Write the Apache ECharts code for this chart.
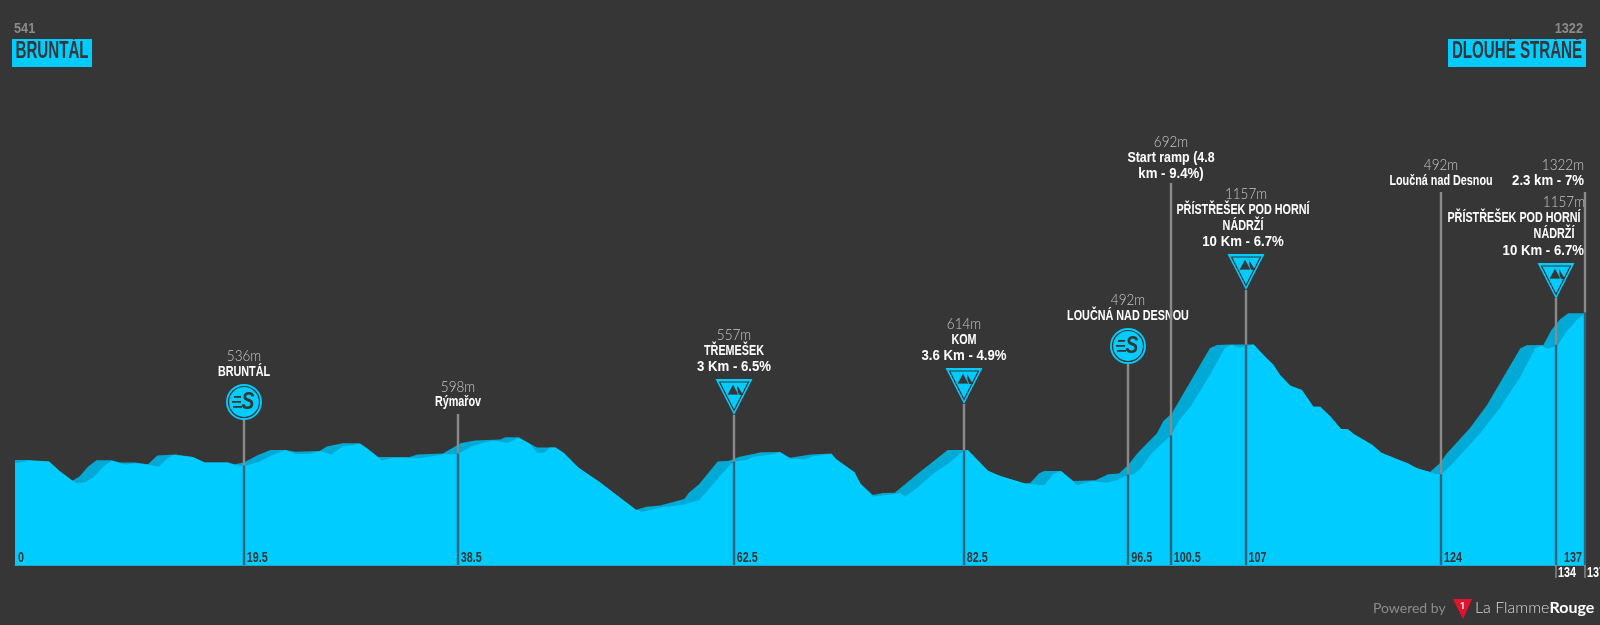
<!DOCTYPE html>
<html><head><meta charset="utf-8">
<style>html,body{margin:0;padding:0;background:#363636}#c{width:1600px;height:625px}</style>
<script src="https://cdn.jsdelivr.net/npm/echarts@6/dist/echarts.min.js"></script>
</head><body><div id="c"></div>
<script>
// Profile outline, back layer [km, metres]
const backProfile = [[0,565],[1.2,565],[2.96,558],[3.84,510],[5,459],[5.6,480],[6.34,531],[7.08,564],[8.4,564],[9.14,552],[10.46,553],[11.57,543],[12.37,588],[13.98,593],[15.45,581],[16.5,553],[18.5,553],[19.1,543],[19.9,552],[21.04,588],[22.2,617],[23.5,617],[24.4,608],[26.5,612],[27.1,634],[28.5,651],[30,651],[30.6,625],[31.6,581],[34.3,581],[35,594],[37.2,598],[38.1,629],[38.8,653],[40,666],[42.2,670],[42.65,682],[43.8,682],[44.8,647],[45.4,630],[47,630],[47.7,603],[49,526],[50.8,454],[52.7,368],[54,310],[54.9,325],[56.1,331],[58.2,365],[58.6,397],[59.5,442],[61.1,558],[62.1,562],[63,582],[64.9,605],[66.5,606],[67.4,577],[69.2,594],[71,598],[71.4,569],[73,502],[73.5,445],[74.6,385],[75.5,396],[76.5,397],[78.6,500],[81.1,617],[82.85,617],[84.6,510],[85.6,485],[87.7,445],[88.3,449],[89.05,497],[89.5,509],[90.95,509],[92.05,458],[93.95,461],[95.06,492],[96,496],[96.8,540],[97.6,600],[99.3,702],[99.86,765],[100.6,805],[103.9,1139],[104.5,1156],[105.8,1159],[107.7,1159],[108.7,1096],[109.4,1056],[110,1002],[110.9,947],[111.9,925],[112.9,839],[113.5,839],[114.4,788],[115.3,725],[115.9,723],[116.4,699],[118,643],[118.8,603],[120.2,569],[121.1,549],[121.9,523],[123.04,504],[123.9,548],[124.5,599],[126.5,728],[128,848],[128.84,933],[130.9,1139],[131.45,1154],[132.9,1156],[133.6,1233],[134.35,1288],[135.07,1319],[136.52,1319]];
// Profile outline, front layer [km, metres]
const frontProfile = [[0,548],[1.2,562],[2.96,558],[3.84,510],[5,459],[5.46,445],[6.2,454],[6.9,480],[7.66,531],[8.4,562],[9.6,541],[10.46,548],[11.6,541],[12.5,531],[13.25,574],[13.8,591],[15.45,581],[16.5,553],[18.5,553],[19.1,540],[19.9,533],[21.3,557],[22.2,586],[23.5,617],[24.4,596],[25.6,596],[26.5,612],[27.5,594],[28.5,634],[30,647],[30.6,625],[31.9,562],[32.8,577],[35.15,574],[37.2,594],[38.5,596],[39.7,634],[40.6,651],[41.6,666],[42.8,653],[43.8,680],[44.8,647],[45.4,603],[46,603],[46.5,629],[47,630],[47.7,603],[49,526],[50.8,454],[52.7,368],[54,310],[54.5,298],[56.25,322],[58,334],[59.5,360],[60.4,420],[61.5,497],[62.5,557],[63.6,565],[64.2,582],[66.1,596],[66.5,606],[67.4,572],[68.7,569],[69.5,586],[71,596],[71.4,569],[73,502],[73.5,445],[74.6,377],[76.5,391],[77,394],[77.4,377],[78.4,420],[79.9,497],[81.2,548],[82.5,613],[82.85,617],[84.6,510],[85.6,485],[88,442],[89.5,435],[90.3,494],[90.95,509],[92.37,436],[93.6,458],[94.9,449],[95.85,463],[96.8,489],[97.3,492],[97.9,523],[98.85,600],[100.5,691],[101.2,765],[102.3,847],[103.9,1002],[105.2,1139],[105.8,1156],[106.5,1142],[107.1,1152],[107.7,1159],[108.7,1096],[109.4,1056],[110,1002],[110.9,947],[111.9,925],[112.9,839],[113.5,839],[114.4,788],[115.3,725],[115.9,723],[116.4,699],[118,643],[118.8,603],[120.2,569],[121.1,549],[121.9,523],[123.04,504],[123.5,493],[124.05,493],[124.9,540],[125.8,599],[127.4,702],[129.1,831],[130.9,993],[132.2,1139],[132.75,1151],[133.3,1137],[134.15,1156],[134.9,1224],[135.8,1284],[136.52,1319]];

// Waypoints
const waypointKm = [19.9,38.5,62.5,82.5,96.8,100.5,107,124,134,136.52];
const waypointElevation = [536,598,557,614,492,692,1157,492,1157,1322];
const waypointHeights = ['536m','598m','557m','614m','492m','692m','1157m','492m','1157m','1322m'];
const waypointNames = [['BRUNTÁL'],['Rýmařov'],['TŘEMEŠEK','3 Km - 6.5%'],['KOM','3.6 Km - 4.9%'],['LOUČNÁ NAD DESNOU'],['Start ramp (4.8','km - 9.4%)'],['PŘÍSTŘEŠEK POD HORNÍ','NÁDRŽÍ','10 Km - 6.7%'],['Loučná nad Desnou'],['PŘÍSTŘEŠEK POD HORNÍ','NÁDRŽÍ','10 Km - 6.7%'],['2.3 km - 7%']];
const waypointIcons = ['sprint','','climb','climb','sprint','','climb','','climb',''];
// Distance marks
const markKm = [0,19.9,38.5,62.5,82.5,96.8,100.5,107,124,136.52,134,136.52];
const markLabels = ['0','19.5','38.5','62.5','82.5','96.5','100.5','107','124','137','134','137'];
const markBelow = [0,0,0,0,0,0,0,0,0,0,1,1];
// Title
const startName='BRUNTÁL', startHeight='541', finishName='DLOUHÉ STRÁNĚ', finishHeight='1322';

// ---- layout/style only ----
const BG='#363636', CY='#00ccff', CY2='#00aad4', GREY='#8a8a8a', DARKLINE='#2f6478';
const BOLD='"Liberation Sans",sans-serif';
const THIN='Lato,"Noto Sans",sans-serif';
const wpLayout = [
 {top:420,hy:356,ny:[372],icon:402},
 {top:414,hy:387,ny:[402]},
 {top:415,hy:335,ny:[351,367],icon:379},
 {top:404,hy:324,ny:[340,356],icon:368},
 {top:364,hy:300,ny:[316],icon:346},
 {top:183,hy:142,ny:[158,174]},
 {top:290,hy:194,ny:[210,226,242],icon:254,nx:-3},
 {top:192,hy:165,ny:[181]},
 {top:298,hy:202,ny:[218,234,251],icon:263,hAbs:1585,hAlign:'right',nAbs:[1514,1554,1584],nAlign:['center','center','right']},
 {top:192,hy:165,ny:[181],hAbs:1584,hAlign:'right',nAbs:[1584],nAlign:['right']}
];
function txt(x,y,s,o,sx){return {type:'text',silent:true,x:x,y:y,scaleX:sx||1,originX:0,originY:0,style:Object.assign({x:0,y:0,text:s,align:'center',verticalAlign:'middle',fill:'#fff',font:'bold 15px '+BOLD},o||{})};}
function nameScale(s){return /\d.*%|Km|km -/.test(s)?0.88:(/\d/.test(s)?0.83:0.72);}
function sprintIcon(cx,cy){return [
 {type:'circle',shape:{cx:cx,cy:cy,r:18},style:{fill:CY}},
 {type:'circle',shape:{cx:cx,cy:cy,r:15.5},style:{fill:CY,stroke:BG,lineWidth:1.2}},
 {type:'rect',shape:{x:cx-10,y:cy-6,width:7,height:1.8},style:{fill:BG}},
 {type:'rect',shape:{x:cx-12,y:cy-1,width:9,height:1.8},style:{fill:BG}},
 {type:'rect',shape:{x:cx-11,y:cy+4,width:9,height:1.8},style:{fill:BG}},
 txt(cx+4,cy+0.5,'S',{fill:BG,font:'italic bold 24px '+BOLD},0.8)
];}
function climbIcon(cx,t){const b=t+36;return [
 {type:'polygon',shape:{points:[[cx-18.5,t],[cx+18.5,t],[cx,b]]},style:{fill:CY}},
 {type:'polygon',shape:{points:[[cx-14.5,t+3],[cx+14.5,t+3],[cx,b-4.5]]},style:{fill:CY,stroke:BG,lineWidth:1.2}},
 {type:'polygon',shape:{points:[[cx+3,t+6],[cx+9,t+16],[cx+4,t+16]]},style:{fill:BG}},
 {type:'polygon',shape:{points:[[cx-7,t+16],[cx-1,t+5],[cx+5,t+16]]},style:{fill:BG,stroke:CY,lineWidth:0.8}}
];}
function renderWaypoint(params,api){
 const i=params.dataIndex,L=wpLayout[i];
 const p=api.coord([api.value(0),api.value(1)]);
 const base=api.coord([api.value(0),26]);
 const x=Math.round(p[0]),kids=[];
 kids.push({type:'line',shape:{x1:x,y1:L.top,x2:x,y2:p[1]},style:{stroke:GREY,lineWidth:2.4}});
 kids.push({type:'line',shape:{x1:x,y1:p[1],x2:x,y2:base[1]},style:{stroke:DARKLINE,lineWidth:2.4}});
 if(waypointIcons[i]==='sprint')kids.push(...sprintIcon(x,L.icon));
 if(waypointIcons[i]==='climb')kids.push(...climbIcon(x,L.icon));
 kids.push(txt(L.hAbs||x,L.hy,waypointHeights[i],{font:'300 15px '+THIN,fill:'#c8c8c8',align:L.hAlign||'center'},0.9));
 waypointNames[i].forEach(function(s,j){
  kids.push(txt(L.nAbs?L.nAbs[j]:x+(L.nx||0),L.ny[j],s,{align:L.nAlign?L.nAlign[j]:'center'},nameScale(s)));
 });
 return {type:'group',children:kids};
}
function renderMark(params,api){
 const i=params.dataIndex;
 const p=api.coord([api.value(0),26]);
 const s=markLabels[i],kids=[];
 const f='bold 15px '+BOLD;
 if(markBelow[i]){
  const x=Math.round(p[0]);
  kids.push({type:'line',shape:{x1:x,y1:p[1],x2:x,y2:p[1]+13},style:{stroke:GREY,lineWidth:1.5}});
  kids.push(txt(x+2,p[1]+7.5,s,{align:'left',font:f},0.72));
 }else if(i===9){
  kids.push(txt(p[0]-3,p[1]-7.5,s,{align:'right',fill:BG,font:f},0.72));
 }else{
  kids.push(txt(p[0]+3,p[1]-7.5,s,{align:'left',fill:BG,font:f},0.72));
 }
 return {type:'group',children:kids};
}
const chart=echarts.init(document.getElementById('c'),null,{renderer:'canvas'});
chart.setOption({
 backgroundColor:BG,animation:false,
 grid:{left:15,top:64,bottom:60,width:1570},
 xAxis:{type:'value',min:0,max:136.52,axisLabel:{show:false},axisTick:{show:false},splitLine:{show:false},axisLine:{show:true,onZero:false,lineStyle:{color:'#1aa8d0',width:1}}},
 yAxis:{type:'value',min:26,max:2599,show:false,splitLine:{show:false}},
 series:[
  {type:'line',data:backProfile,symbol:'none',lineStyle:{width:0},areaStyle:{color:CY2,opacity:1},z:2},
  {type:'line',data:frontProfile,symbol:'none',lineStyle:{width:0},areaStyle:{color:CY,opacity:1},z:3},
  {type:'custom',coordinateSystem:'cartesian2d',clip:false,z:5,renderItem:renderWaypoint,
   encode:{x:0,y:1},data:waypointKm.map(function(k,i){return [k,waypointElevation[i]];})},
  {type:'custom',coordinateSystem:'cartesian2d',clip:false,z:6,renderItem:renderMark,
   encode:{x:0,y:1},data:markKm.map(function(k){return [k,26];})}
 ],
 graphic:[
  {type:'text',x:14,y:29,scaleX:0.85,originX:0,originY:0,style:{x:0,y:0,text:startHeight,fill:GREY,verticalAlign:'middle',font:'bold 15px '+BOLD}},
  {type:'rect',shape:{x:12,y:39,width:80,height:28},style:{fill:CY}},
  {type:'text',x:52,y:51,scaleX:0.63,originX:0,originY:0,style:{x:0,y:0,text:startName,fill:BG,align:'center',verticalAlign:'middle',font:'bold 24px '+BOLD}},
  {type:'text',x:1583,y:29,scaleX:0.85,originX:0,originY:0,style:{x:0,y:0,text:finishHeight,fill:GREY,align:'right',verticalAlign:'middle',font:'bold 15px '+BOLD}},
  {type:'rect',shape:{x:1448,y:39,width:138,height:28},style:{fill:CY}},
  {type:'text',x:1517,y:51,scaleX:0.63,originX:0,originY:0,style:{x:0,y:0,text:finishName,fill:BG,align:'center',verticalAlign:'middle',font:'bold 24px '+BOLD}},
  {type:'text',x:1373,y:608,style:{text:'Powered by',fill:'#8c8c8c',verticalAlign:'middle',font:'14px Lato,sans-serif'}},
  {type:'polygon',shape:{points:[[1453,599],[1472,599],[1463,619]]},style:{fill:'#e8112d'}},
  {type:'text',x:1462.5,y:607,style:{text:'1',fill:'#fff',align:'center',verticalAlign:'middle',font:'bold 9px Roboto,sans-serif'}},
  {type:'text',x:1475,y:608,style:{rich:{a:{fill:'#d8d8d8',font:'300 16px Lato,sans-serif'},b:{fill:'#fff',font:'bold 16px Lato,sans-serif'}},text:'{a|La Flamme}{b|Rouge}',verticalAlign:'middle'}}
 ]
});
</script></body></html>
